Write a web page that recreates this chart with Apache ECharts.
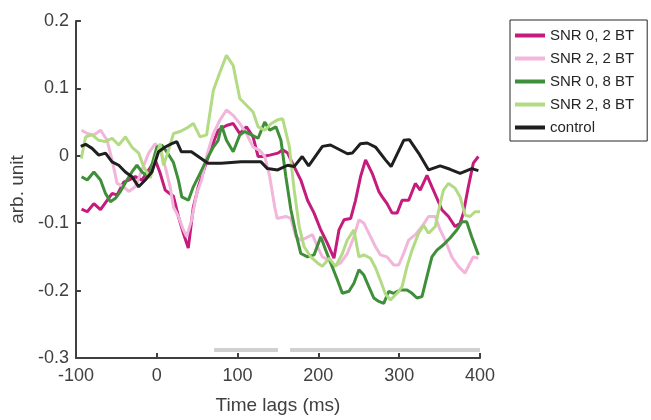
<!DOCTYPE html>
<html>
<head>
<meta charset="utf-8">
<script src="https://cdn.jsdelivr.net/npm/echarts@6/dist/echarts.min.js"></script>
<style>html,body{margin:0;padding:0;background:#fff}#c{width:651px;height:420px}</style>
</head>
<body>
<div id="c"></div>
<script>
var seriesNames = ['SNR 0, 2 BT', 'SNR 2, 2 BT', 'SNR 0, 8 BT', 'SNR 2, 8 BT', 'control'];
var xTicks = [-100, 0, 100, 200, 300, 400];
var yTicks = [-0.3, -0.2, -0.1, 0, 0.1, 0.2];

var snr0bt2 = [[-93,-0.079],[-86,-0.083],[-77.8,-0.071],[-69.6,-0.080],[-61.4,-0.066],[-55.3,-0.056],[-49,-0.058],[-40.9,-0.039],[-34.7,-0.036],[-26.5,-0.031],[-18.3,-0.036],[-10,-0.021],[-1.9,-0.006],[4.3,-0.026],[10.5,-0.051],[16,-0.056],[20.7,-0.060],[26.8,-0.09],[33,-0.115],[39,-0.137],[45.3,-0.076],[51.5,-0.046],[59.7,-0.016],[67.9,0.013],[76,0.038],[86.3,0.045],[94.6,0.048],[102.8,0.033],[111,0.043],[119.2,0.028],[125.4,-0.001],[131.5,-0.001],[139.8,0.001],[150,0.004],[155.8,0.009],[162,0.004],[170,-0.016],[178.3,-0.036],[186.6,-0.066],[194.7,-0.085],[203,-0.110],[211.2,-0.130],[219.3,-0.152],[225.5,-0.110],[231.7,-0.095],[240,-0.093],[246,-0.066],[252.2,-0.031],[258.4,-0.006],[266.6,-0.026],[274.8,-0.053],[279,-0.061],[285,-0.071],[291.3,-0.085],[297.4,-0.085],[303.6,-0.066],[311.8,-0.066],[320,-0.041],[326,-0.051],[334.4,-0.029],[340.5,-0.046],[346.7,-0.063],[352.8,-0.080],[361,-0.090],[369.2,-0.105],[375.4,-0.100],[379.4,-0.085],[385.6,-0.046],[391.7,-0.011],[398,-0.001]];

var snr2bt2 = [[-93,0.038],[-86,0.033],[-77.8,0.031],[-69.6,0.038],[-61.4,0.023],[-55.3,-0.006],[-49,-0.041],[-40.9,-0.046],[-34.7,-0.053],[-26.5,-0.046],[-18.3,-0.021],[-10,0.004],[-1.9,0.018],[4.3,0.008],[10.5,-0.016],[16.6,-0.046],[20.7,-0.076],[26.8,-0.090],[33,-0.110],[37,-0.120],[43.2,-0.095],[49.4,-0.056],[55.5,-0.036],[61.7,-0.001],[70,0.033],[78.2,0.053],[86.3,0.068],[94.6,0.060],[102.8,0.048],[111,0.033],[119.2,0.013],[127.5,0.008],[133.6,-0.001],[139.8,-0.031],[146,-0.076],[149,-0.093],[159.8,-0.090],[166,-0.093],[172.2,-0.120],[178.3,-0.125],[184.5,-0.122],[192.7,-0.117],[198.9,-0.135],[205,-0.150],[213.2,-0.155],[219.3,-0.164],[227.6,-0.159],[235.8,-0.145],[244,-0.120],[250.2,-0.095],[256.3,-0.100],[264.5,-0.120],[270.7,-0.135],[276.8,-0.147],[285,-0.150],[293.2,-0.162],[299.4,-0.162],[305.5,-0.145],[311.7,-0.125],[320,-0.117],[328.2,-0.105],[336.3,-0.090],[344.6,-0.090],[350.7,-0.110],[356.9,-0.125],[365.1,-0.150],[373.3,-0.164],[381.5,-0.174],[387.7,-0.159],[391.7,-0.150],[398,-0.152]];

var snr0bt8 = [[-93,-0.031],[-86,-0.036],[-77.8,-0.024],[-69.6,-0.036],[-63.4,-0.056],[-57.3,-0.068],[-51.1,-0.063],[-45,-0.053],[-36.8,-0.036],[-30.7,-0.024],[-24.5,-0.014],[-18.3,-0.024],[-10,-0.031],[0.1,0.013],[6.3,0.016],[12.4,0.006],[20.7,-0.010],[26.8,-0.036],[31,-0.061],[39.2,-0.066],[45.3,-0.046],[53.6,-0.026],[61.7,-0.006],[70,0.013],[76,0.023],[80.2,0.045],[86.3,0.023],[94.6,0.006],[102.8,0.031],[109,0.036],[117.1,0.031],[125.4,0.026],[133.6,0.050],[139.8,0.038],[147.5,0.043],[153.7,0.023],[159.8,-0.031],[166,-0.080],[172.2,-0.115],[178.3,-0.145],[186.6,-0.150],[194.7,-0.147],[203,-0.120],[209.1,-0.140],[215.3,-0.159],[223.5,-0.184],[229.7,-0.204],[237.9,-0.201],[244,-0.189],[250.2,-0.169],[256.3,-0.177],[262.4,-0.194],[268.6,-0.211],[274.8,-0.216],[280.9,-0.219],[287.1,-0.201],[293.2,-0.204],[301.5,-0.199],[309.7,-0.199],[315.9,-0.204],[322,-0.211],[328.2,-0.209],[334.4,-0.179],[340.5,-0.150],[346.7,-0.140],[354.8,-0.132],[363,-0.122],[371.3,-0.110],[377.5,-0.098],[383.6,-0.098],[389.7,-0.120],[398,-0.147]];

var snr2bt8 = [[-93.4,-0.004],[-88,0.028],[-80,0.031],[-71.7,0.023],[-63.4,0.021],[-55.3,0.026],[-47,0.016],[-38.8,0.028],[-30.7,0.013],[-22.4,0.004],[-16.3,-0.016],[-8,-0.033],[-1.9,-0.006],[4.3,0.018],[8.4,-0.014],[14.5,0.008],[20.7,0.033],[28.9,0.036],[37,0.041],[45.3,0.048],[53.6,0.028],[61.7,0.031],[70,0.097],[78.2,0.124],[86.3,0.149],[94.6,0.134],[102.8,0.085],[111,0.075],[119.2,0.065],[125.4,0.043],[133.6,0.038],[141.8,0.048],[149,0.053],[155.8,0.055],[164,0.014],[170,-0.050],[176.3,-0.105],[182.4,-0.135],[190.6,-0.150],[198.9,-0.159],[205,-0.164],[213.2,-0.152],[221.4,-0.164],[229.7,-0.145],[235.8,-0.125],[244,-0.110],[250.2,-0.150],[256.3,-0.147],[264.5,-0.152],[270.7,-0.166],[276.8,-0.185],[283,-0.205],[289.2,-0.214],[297.4,-0.204],[303.6,-0.194],[309.7,-0.164],[315.9,-0.140],[324,-0.115],[330.2,-0.103],[336.3,-0.115],[344.6,-0.105],[350.7,-0.071],[354.8,-0.051],[361,-0.041],[369.2,-0.048],[375.4,-0.061],[381.5,-0.088],[387.7,-0.090],[393.8,-0.083],[400,-0.083]];

var control = [[-94,0.014],[-88,0.017],[-80,0.011],[-71.7,0.001],[-63.4,0.004],[-55.3,-0.009],[-47,-0.014],[-38.8,-0.024],[-30.7,-0.031],[-22.4,-0.046],[-14.2,-0.036],[-6,-0.024],[2.2,0.006],[10.5,0.013],[18.6,0.018],[24.8,0.021],[30.5,0.006],[42.9,0.006],[63.4,-0.011],[79.8,-0.011],[104.4,-0.009],[129,-0.009],[137,-0.019],[149.6,-0.021],[162,-0.014],[170,-0.016],[180,-0.001],[188,-0.015],[205,0.014],[215,0.016],[236,0.003],[242,0.004],[252,0.018],[260.5,0.019],[270.7,0.013],[283,-0.006],[290,-0.016],[305.6,0.023],[312.6,0.024],[324,0.004],[336.4,-0.021],[350.7,-0.015],[363,-0.020],[375.4,-0.026],[389.8,-0.019],[398,-0.022]];

// significance bars: [start, end] in ms, drawn at level sigLevel
var sigBars = [[71, 150], [165, 400]];
var sigLevel = -0.288;

var colors = ['#C51B7D', '#F1B6DA', '#3F8F3A', '#B2DB84', '#1F1F1F'];
var allData = [snr0bt2, snr2bt2, snr0bt8, snr2bt8, control];
var font = 'Liberation Sans, Arial, Helvetica, sans-serif';
var axisCol = '#404040';

var series = [];
sigBars.forEach(function (b, i) {
  series.push({
    type: 'line', name: 'sig' + i, silent: true, symbol: 'none',
    data: [[b[0], sigLevel], [b[1], sigLevel]],
    lineStyle: { color: '#D0D0D0', width: 4, cap: 'butt' }, z: 1
  });
});
allData.forEach(function (d, i) {
  series.push({
    type: 'line', name: seriesNames[i], data: d, symbol: 'none',
    lineStyle: { color: colors[i], width: 3 }, itemStyle: { color: colors[i] },
    z: 2 + i
  });
});

var chart = echarts.init(document.getElementById('c'), null, { renderer: 'canvas' });
chart.setOption({
  animation: false,
  backgroundColor: '#fff',
  textStyle: { fontFamily: font },
  grid: { left: 74, right: 171, top: 21, bottom: 61, containLabel: false },
  xAxis: {
    type: 'value', min: xTicks[0], max: xTicks[xTicks.length - 1], interval: 100,
    name: 'Time lags (ms)', nameLocation: 'middle', nameGap: 38,
    nameTextStyle: { fontSize: 19, color: axisCol, fontFamily: font },
    axisLine: { onZero: false, lineStyle: { color: axisCol, width: 2 } },
    axisTick: { inside: true, length: 5, lineStyle: { color: axisCol, width: 2 } },
    axisLabel: { fontSize: 18, color: axisCol, margin: 9, fontFamily: font },
    splitLine: { show: false }
  },
  yAxis: {
    type: 'value', min: yTicks[0], max: yTicks[yTicks.length - 1], interval: 0.1,
    name: 'arb. unit', nameLocation: 'middle', nameGap: 48, nameRotate: 90,
    nameTextStyle: { fontSize: 19, color: axisCol, fontFamily: font },
    axisLine: { onZero: false, lineStyle: { color: axisCol, width: 2 } },
    axisTick: { inside: true, length: 5, lineStyle: { color: axisCol, width: 2 } },
    axisLabel: { fontSize: 18, color: axisCol, margin: 7, fontFamily: font,
      formatter: function (v) { return String(Math.round(v * 10) / 10); } },
    splitLine: { show: false }
  },
  legend: {
    data: seriesNames, orient: 'vertical', left: 510, top: 20,
    icon: 'rect', itemWidth: 30, itemHeight: 4, itemGap: 8,
    padding: [8, 13, 6, 5], borderColor: '#262626', borderWidth: 1,
    textStyle: { fontSize: 15, color: '#262626', fontFamily: font },
    selectedMode: false
  },
  series: series
});
</script>
</body>
</html>
